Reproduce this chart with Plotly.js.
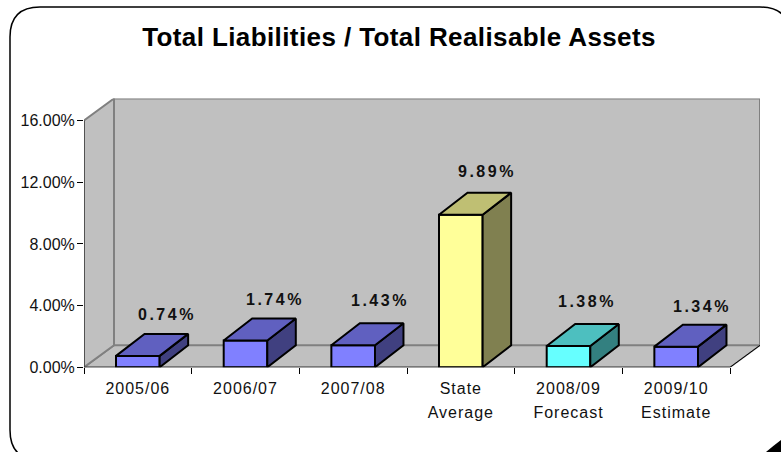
<!DOCTYPE html>
<html><head><meta charset="utf-8">
<script src="https://cdn.plot.ly/plotly-3.0.1.min.js"></script>
<style>
html,body{margin:0;padding:0;background:#fff;overflow:hidden}
#c{width:781px;height:452px}
.xtick text{letter-spacing:1px}
.annotation-text{letter-spacing:2.5px}
.annotation:last-of-type .annotation-text{letter-spacing:0.4px}
</style></head><body><div id="c"></div>
<script>
const categories=["2005/06","2006/07","2007/08","State<br>Average","2008/09<br>Forecast","2009/10<br>Estimate"];
const values=[0.74,1.74,1.43,9.89,1.38,1.34];
const valueLabels=["0.74%","1.74%","1.43%","9.89%","1.38%","1.34%"];
const frontColors=["#8080FF","#8080FF","#8080FF","#FFFF99","#66FFFF","#8080FF"];
const topColors=["#6060C0","#6060C0","#6060C0","#BFBF73","#4DBFBF","#6060C0"];
const sideColors=["#404080","#404080","#404080","#808050","#338080","#404080"];
const yTicks=[0,4,8,12,16];
const yTickLabels=["0.00%","4.00%","8.00%","12.00%","16.00%"];
const titleText="Total Liabilities / Total Realisable Assets";

// pixel geometry of the pseudo-3D box
const W=781,H=452,L=84,R=730,T=120.5,B=367.3,DX=30,DY=22,BDX=28.5;
const pxX=(R-L)/6, pxY=(B-T)/16;
const ddx=DX/pxX, ddy=DY/pxY, bdx=BDX/pxX, bw=0.405;
const yMax=16+ddy, xMax=5.5+ddx;
const labelDx=[15,15,13,12,4,12], labelDy=[19,19,23,21,23,18];

const traces=[];
values.forEach((v,i)=>{
  const a=i-bw/2,b=i+bw/2;
  const face=(xs,ys,c)=>traces.push({type:'scatter',mode:'lines',x:xs,y:ys,fill:'toself',fillcolor:c,
    line:{color:'#000',width:2},hoverinfo:'skip',showlegend:false,cliponaxis:false});
  face([b,b+bdx,b+bdx,b,b],[0,ddy,v+ddy,v,0],sideColors[i]);
  face([a,b,b+bdx,a+bdx,a],[v,v,v+ddy,v+ddy,v],topColors[i]);
});
traces.push({type:'bar',x:values.map((_,i)=>i),y:values,width:bw,
  marker:{color:frontColors,line:{color:'#000',width:2}},hoverinfo:'skip',showlegend:false,cliponaxis:false});

const wall={line:{color:'#808080',width:2},fillcolor:'#C0C0C0',layer:'below',xref:'x',yref:'y'};
const x0=-0.5,x1=5.5;
const path=p=>'M'+p.map(q=>q[0]+','+q[1]).join('L')+'Z';
const px=x=>x/W,py=y=>1-y/H;
const shapes=[
  {type:'path',path:path([[x0,0],[x0+ddx,ddy],[x1+ddx,ddy],[x1,0]]),...wall,line:{color:'#808080',width:1.5}},
  {type:'path',path:path([[x0,0],[x0+ddx,ddy],[x0+ddx,yMax],[x0,16]]),...wall},
  {type:'path',path:path([[x0+ddx,ddy],[x1+ddx,ddy],[x1+ddx,yMax],[x0+ddx,yMax]]),...wall},
  {type:'line',x0:x1,y0:0,x1:x1+ddx,y1:ddy,xref:'x',yref:'y',layer:'below',line:{color:'#000',width:1}},
  {type:'line',x0:x0,y0:0,x1:x0,y1:16,xref:'x',yref:'y',layer:'above',line:{color:'#333',width:1.2}},
  {type:'line',x0:x0,y0:0,x1:x1,y1:0,xref:'x',yref:'y',layer:'above',line:{color:'#000',width:1.2}},
  {type:'path',xref:'paper',yref:'paper',layer:'below',line:{color:'#000',width:1.5},fillcolor:'rgba(0,0,0,0)',
   path:(()=>{const l=10,t=7,r=790,b=460,rad=30;
     return `M${px(l)},${py(t+rad)}Q${px(l)},${py(t)} ${px(l+rad)},${py(t)}L${px(r-rad)},${py(t)}Q${px(r)},${py(t)} ${px(r)},${py(t+rad)}L${px(r)},${py(b-rad)}Q${px(r)},${py(b)} ${px(r-rad)},${py(b)}L${px(l+rad)},${py(b)}Q${px(l)},${py(b)} ${px(l)},${py(b-rad)}Z`})()},
  {type:'path',xref:'paper',yref:'paper',layer:'below',line:{width:0},fillcolor:'#000',
   path:`M${px(781)},${py(440)}Q${px(773)},${py(446)} ${px(766)},${py(452)}L${px(781)},${py(452)}Z`}
];
const annotations=values.map((v,i)=>({x:i,y:v+ddy,xref:'x',yref:'y',text:'<b>'+valueLabels[i]+'</b>',showarrow:false,
  xshift:labelDx[i]+BDX/2,yshift:labelDy[i],font:{family:'Liberation Sans',size:16,color:'#111'},
  xanchor:'center',yanchor:'middle'}));
annotations.push({xref:'paper',yref:'paper',x:399/W,y:1-37/H,text:'<b>'+titleText+'</b>',showarrow:false,
  font:{family:'Liberation Sans',size:26,color:'#000'},xanchor:'center',yanchor:'middle'});

const layout={width:W,height:H,margin:{l:0,r:0,t:0,b:0},paper_bgcolor:'#fff',plot_bgcolor:'rgba(0,0,0,0)',
  showlegend:false,barmode:'overlay',shapes,annotations,
  font:{family:'Liberation Sans',color:'#111',size:16},
  xaxis:{domain:[L/W,(R+DX)/W],range:[x0,xMax],type:'linear',showgrid:false,zeroline:false,showline:false,
    tickmode:'array',tickvals:categories.map((_,i)=>i),ticktext:categories,ticks:'',tickangle:0,
    ticklabelstandoff:10,tickfont:{size:16,family:'Liberation Sans',color:'#111'},
    minor:{tickmode:'array',tickvals:[-0.5,0.5,1.5,2.5,3.5,4.5,5.5],ticks:'outside',ticklen:6,tickcolor:'#000',tickwidth:1,showgrid:false}},
  yaxis:{domain:[1-B/H,1-(T-DY)/H],range:[0,yMax],showgrid:false,zeroline:false,showline:false,
    tickmode:'array',tickvals:yTicks,ticktext:yTickLabels,ticks:'outside',ticklen:6,tickcolor:'#000',tickwidth:1,
    ticklabelstandoff:-1,tickfont:{size:16,family:'Liberation Sans',color:'#111'}}
};
Plotly.newPlot('c',traces,layout,{staticPlot:true,displayModeBar:false}).then(()=>{
  document.querySelectorAll('.xtick text tspan.line').forEach(t=>{
    if(t.getAttribute('dy')&&parseFloat(t.getAttribute('dy'))>0)t.setAttribute('dy','24px');
  });
  const anns=document.querySelectorAll('.annotation-text');
  anns[anns.length-1].style.letterSpacing='0.4px';
});
</script></body></html>
